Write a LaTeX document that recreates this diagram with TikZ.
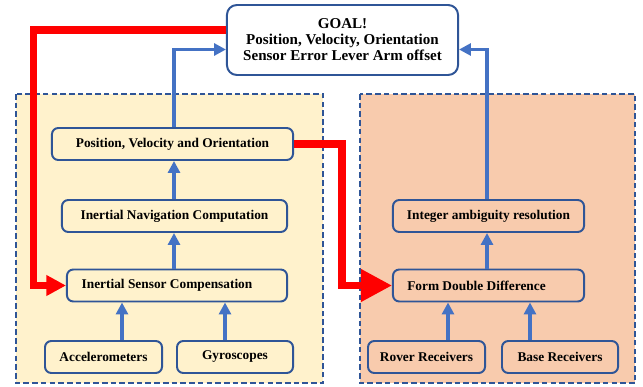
\documentclass[tikz,border=0pt]{standalone}
\usepackage{fontspec}
\setmainfont{Liberation Serif}
\usetikzlibrary{arrows.meta}

\definecolor{boxblue}{HTML}{2F5597}
\definecolor{arrowblue}{HTML}{4472C4}
\definecolor{insfill}{HTML}{FFF2CC}
\definecolor{gnssfill}{HTML}{F8CBAD}
\definecolor{fbred}{HTML}{FF0000}

\tikzset{
  panel/.style={draw=boxblue, line width=1.4pt, dash pattern=on 4pt off 2.2pt},
  block/.style={draw=boxblue, fill=white, line width=1.4pt, rounded corners=4.5pt,
    minimum height=0.8cm, inner sep=0pt, font=\bfseries\fontsize{9.5}{10}\selectfont},
  goalbox/.style={draw=boxblue, fill=white, line width=1.4pt, rounded corners=7pt,
    minimum width=5.775cm, minimum height=1.75cm, align=center,
    font=\bfseries\fontsize{10.7}{11.4}\selectfont},
  flow/.style={draw=arrowblue, line width=2.8pt, -{Triangle[width=8.5pt,length=8.5pt]}},
  feedback/.style={draw=fbred, line width=5pt, line join=miter},
}

\begin{document}
\begin{tikzpicture}[x=0.025cm, y=-0.025cm]
\useasboundingbox (0,0) rectangle (643,387);

% dashed panels
\draw[panel, fill=insfill] (16,94) rectangle (323,383);
\draw[panel, fill=gnssfill] (360,94) rectangle (635,383);

\node[goalbox] (goal) at (342.5,40) {GOAL!\\Position, Velocity, Orientation\\Sensor Error Lever Arm offset};

% inertial side
\node[block, fill=insfill, minimum width=6.025cm] (pvo) at (172.5,144) {Position, Velocity and Orientation};
\node[block, fill=insfill, minimum width=5.625cm] (inc) at (174.5,216) {Inertial Navigation Computation};
\node[block, fill=insfill, minimum width=5.5cm] (isc) at (177,285.5) {Inertial Sensor Compensation\rule{0.5cm}{0pt}};
\node[block, fill=insfill, minimum width=2.925cm] (acc) at (103.5,357) {Accelerometers};
\node[block, fill=insfill, minimum width=2.9cm] (gyro) at (235,357) {Gyroscopes};

% gnss side
\node[block, fill=gnssfill, minimum width=4.775cm] (iar) at (488.5,216) {Integer ambiguity resolution};
\node[block, fill=gnssfill, minimum width=4.775cm] (fdd) at (488.5,285.5) {Form Double Difference\rule{0.6cm}{0pt}};
\node[block, fill=gnssfill, minimum width=2.925cm] (rover) at (426.5,357) {Rover Receivers};
\node[block, fill=gnssfill, minimum width=2.9cm] (base) at (560,357) {Base Receivers};

% arrow columns and rows
\coordinate (cacc) at (122,0);
\coordinate (cgyro) at (225,0);
\coordinate (cins) at (174,0);
\coordinate (crov) at (448,0);
\coordinate (cbase) at (530,0);
\coordinate (cgnss) at (487,0);
\coordinate (goalin) at (0,49.5);
\coordinate (goalfb) at (0,30);
\coordinate (cfbins) at (33.5,0);
\coordinate (cfbgnss) at (342,0);

\draw[flow] (acc.north -| cacc) -- (isc.south -| cacc);
\draw[flow] (gyro.north -| cgyro) -- (isc.south -| cgyro);
\draw[flow] (isc.north -| cins) -- (inc.south -| cins);
\draw[flow] (inc.north -| cins) -- (pvo.south -| cins);
\draw[flow] (pvo.north -| cins) |- (goal.west |- goalin);

\draw[flow] (rover.north -| crov) -- (fdd.south -| crov);
\draw[flow] (base.north -| cbase) -- (fdd.south -| cbase);
\draw[flow] (fdd.north -| cgnss) -- (iar.south -| cgnss);
\draw[flow] (iar.north -| cgnss) |- (goal.east |- goalin);

% feedback
\draw[feedback, -{Triangle[width=14pt,length=14pt]}] (goal.west |- goalfb) -| (cfbins |- isc.west) -- (isc.west);
\draw[feedback, -{Triangle[width=22pt,length=22pt]}] (pvo.east) -| (cfbgnss |- fdd.west) -- (fdd.west);

\end{tikzpicture}
\end{document}
